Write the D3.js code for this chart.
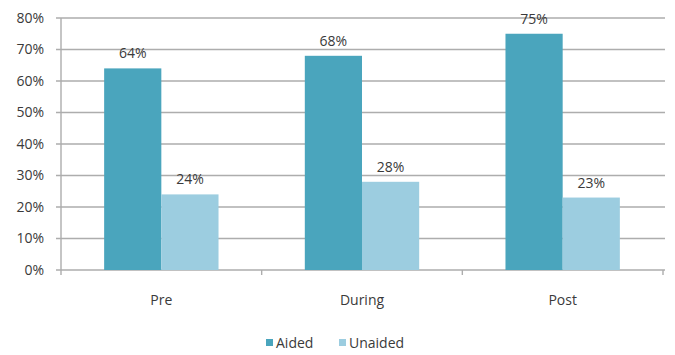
<!DOCTYPE html>
<html>
<head>
<meta charset="utf-8">
<script src="https://cdn.jsdelivr.net/npm/d3@7"></script>
<style>
  body { margin: 0; background: #fff; }
  text { font-family: "Open Sans", sans-serif; fill: #3a3a3a; }
</style>
</head>
<body>
<div id="chartArea"></div>
<script>
const svgWidth = 675;
const svgHeight = 355;

const categories = ['Pre', 'During', 'Post'];
const seriesNames = ['Aided', 'Unaided'];
const aided = [0.64, 0.68, 0.75];
const unaided = [0.24, 0.28, 0.23];
const yTicks = [0, 0.1, 0.2, 0.3, 0.4, 0.5, 0.6, 0.7, 0.8];

const colors = ['#4aa5bd', '#9ccde0'];

const plotLeft = 61, plotRight = 663, plotTop = 18, plotBottom = 270;

const canvas = d3.select('#chartArea')
  .append('svg')
  .attr('width', svgWidth)
  .attr('height', svgHeight);

const x0 = d3.scaleBand()
  .domain(categories)
  .range([plotLeft, plotRight])
  .padding(0);

const x1 = d3.scaleBand()
  .domain(seriesNames)
  .range([x0.bandwidth() * 0.215, x0.bandwidth() * 0.785])
  .padding(0);

const y = d3.scaleLinear()
  .domain([0, 0.8])
  .range([plotBottom, plotTop]);

// gridlines
canvas.append('g')
  .selectAll('line')
  .data(yTicks)
  .join('line')
  .attr('x1', plotLeft - 5)
  .attr('x2', plotRight + 2)
  .attr('y1', d => y(d))
  .attr('y2', d => y(d))
  .attr('stroke', '#adadad')
  .attr('stroke-width', 1.4);

// y axis line
canvas.append('line')
  .attr('x1', plotLeft)
  .attr('x2', plotLeft)
  .attr('y1', plotTop)
  .attr('y2', plotBottom)
  .attr('stroke', '#adadad')
  .attr('stroke-width', 1.4);

// y tick labels
canvas.append('g')
  .selectAll('text')
  .data(yTicks)
  .join('text')
  .attr('x', plotLeft - 17)
  .attr('y', d => y(d))
  .attr('dy', '0.35em')
  .attr('text-anchor', 'end')
  .attr('font-size', 14)
  .text(d3.format('.0%'));

// category separator ticks
const sepX = categories.map(c => x0(c)).concat([plotRight]);
canvas.append('g')
  .selectAll('line')
  .data(sepX)
  .join('line')
  .attr('x1', d => d)
  .attr('x2', d => d)
  .attr('y1', plotBottom)
  .attr('y2', plotBottom + 5)
  .attr('stroke', '#adadad')
  .attr('stroke-width', 1.4);

const rows = categories.map((c, i) => ({ cat: c, values: [aided[i], unaided[i]] }));

const groups = canvas.append('g')
  .selectAll('g')
  .data(rows)
  .join('g')
  .attr('transform', d => `translate(${x0(d.cat)},0)`);

groups.selectAll('rect')
  .data(d => d.values.map((v, j) => ({ name: seriesNames[j], value: v, j })))
  .join('rect')
  .attr('x', d => x1(d.name))
  .attr('y', d => y(d.value))
  .attr('width', x1.bandwidth())
  .attr('height', d => plotBottom - y(d.value))
  .attr('fill', d => colors[d.j]);

groups.selectAll('text')
  .data(d => d.values.map((v, j) => ({ name: seriesNames[j], value: v })))
  .join('text')
  .attr('x', d => x1(d.name) + x1.bandwidth() / 2)
  .attr('y', d => y(d.value) - 10)
  .attr('text-anchor', 'middle')
  .attr('font-size', 14)
  .text(d => d3.format('.0%')(d.value));

// x labels
canvas.append('g')
  .selectAll('text')
  .data(categories)
  .join('text')
  .attr('x', d => x0(d) + x0.bandwidth() / 2)
  .attr('y', 305)
  .attr('text-anchor', 'middle')
  .attr('font-size', 14)
  .text(d => d);

// legend
const legendX = [266, 339];
const legend = canvas.append('g')
  .selectAll('g')
  .data(seriesNames)
  .join('g')
  .attr('transform', (d, i) => `translate(${legendX[i]},343)`);

legend.append('rect')
  .attr('x', 0)
  .attr('y', -4)
  .attr('width', 7)
  .attr('height', 7)
  .attr('fill', (d, i) => colors[i]);

legend.append('text')
  .attr('x', 10)
  .attr('y', 0)
  .attr('dy', '0.35em')
  .attr('font-size', 14)
  .text(d => d);
</script>
</body>
</html>
